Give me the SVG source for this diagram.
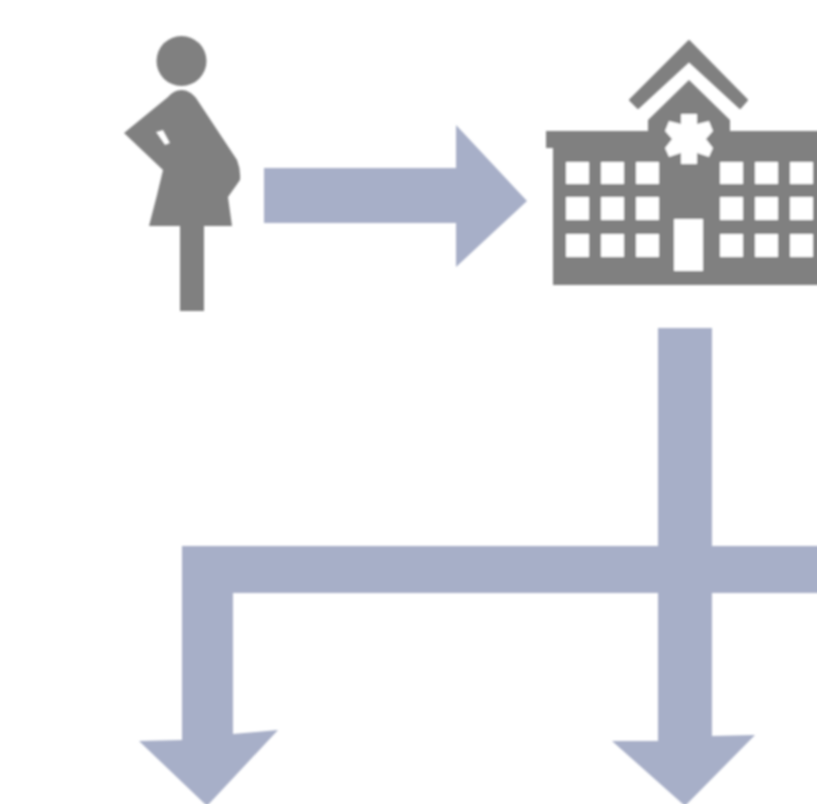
<svg xmlns="http://www.w3.org/2000/svg" width="817" height="804" viewBox="0 0 817 804">
<style>
.icon{fill:#808080}
.hole{fill:#fff}
.conn{fill:#a7afc8}
</style>
<defs>
<filter id="soft" filterUnits="userSpaceOnUse" x="0" y="0" width="817" height="804"><feGaussianBlur stdDeviation="0.8"/></filter>
</defs>
<rect width="817" height="804" fill="#fff"/>
<g id="connectors" filter="url(#soft)">
<path id="arrow-woman-hospital" class="conn" d="M264 168H456V125L527 201L456 267V223H264Z"/>
<path id="arrow-hospital-down" class="conn" d="M658 328H712V736L755 735L685 806L612 741L658 741Z"/>
<path id="arrow-branch-left" class="conn" d="M830 546H182V740L139 741L207 806L278 730L233 734V593H830Z"/>
</g>
<g id="woman" filter="url(#soft)">
<circle class="icon" cx="181.500" cy="61" r="25"/>
<path class="icon" fill-rule="evenodd" d="M181.500 90C187 90 192 93 196 98L237 160Q241 170 240 180L228 197L232 226H204V311H180V226H149L157 195L163 170L124 133L168 97Q174 90 181.500 90ZM156 132L165 145L170 143L163 130Z"/>
</g>
<g id="hospital" filter="url(#soft)">
<path class="icon" stroke="#808080" stroke-width="2" stroke-linejoin="round" d="M689 41L747 100L740 108L689 61L638 108L630 100Z"/>
<path class="icon" d="M546 131H648V120L689 80L730 120V131H830V285H553V148H546Z"/>
<g class="hole">
<path id="star" d="M681 114H697V124L709 121L713 131L706 139L713 148L709 157L697 153V164H681V153L669 157L665 148L672 139L665 131L669 121L681 124Z"/>
<rect x="566" y="162" width="23" height="22"/><rect x="601" y="162" width="23" height="22"/><rect x="636" y="162" width="23" height="22"/>
<rect x="720" y="162" width="23" height="22"/><rect x="755" y="162" width="23" height="22"/><rect x="790" y="162" width="23" height="22"/>
<rect x="566" y="197" width="23" height="23"/><rect x="601" y="197" width="23" height="23"/><rect x="636" y="197" width="23" height="23"/>
<rect x="720" y="197" width="23" height="23"/><rect x="755" y="197" width="23" height="23"/><rect x="790" y="197" width="23" height="23"/>
<rect x="566" y="234" width="23" height="23"/><rect x="601" y="234" width="23" height="23"/><rect x="636" y="234" width="23" height="23"/>
<rect x="720" y="234" width="23" height="23"/><rect x="755" y="234" width="23" height="23"/><rect x="790" y="234" width="23" height="23"/>
<rect x="674" y="219" width="29" height="52"/>
</g>
</g>
</svg>
